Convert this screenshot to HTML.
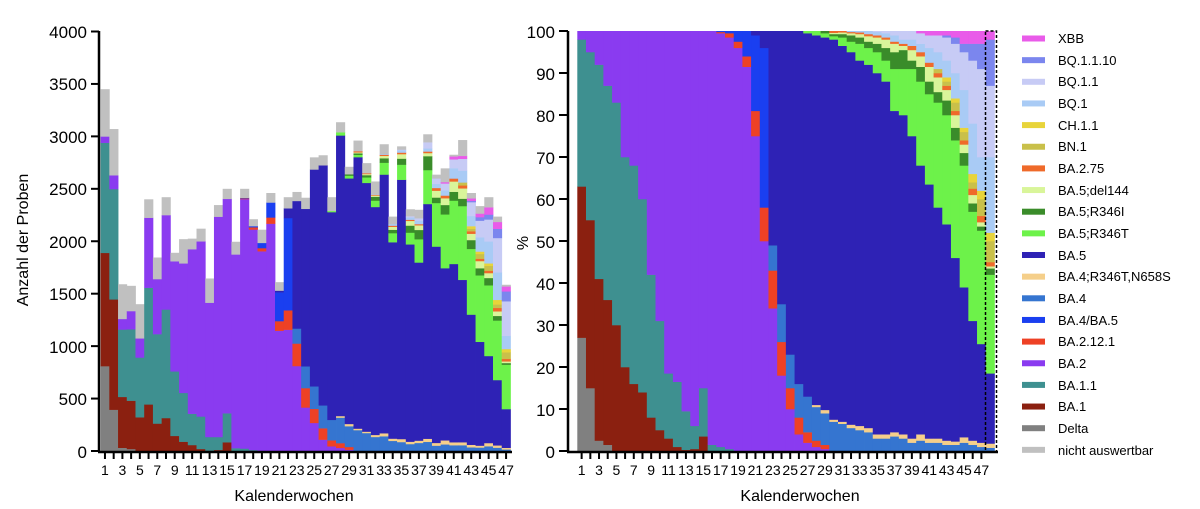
<!DOCTYPE html>
<html><head><meta charset="utf-8"><style>
body{margin:0;background:#fff;width:1200px;height:509px;overflow:hidden}
svg{display:block;font-family:"Liberation Sans",Arial,sans-serif}
</style></head><body>
<svg id="s" width="1200" height="509" xmlns="http://www.w3.org/2000/svg">
<g id="bars"></g>
<g id="axes" stroke="#000" stroke-width="2.5" fill="none">
<line x1="99" y1="31" x2="99" y2="452"/><line x1="98" y1="452" x2="512" y2="452"/>
<line x1="568" y1="31" x2="568" y2="452"/><line x1="567" y1="452" x2="998" y2="452"/>
</g>
<g id="ticks" stroke="#000" stroke-width="2"></g>
<rect x="985.5" y="31" width="11" height="421" fill="none" stroke="#000" stroke-width="1.5" stroke-dasharray="3,2"/>
<g font-size="17" text-anchor="end" fill="#000">
<text x="87" y="38">4000</text><text x="87" y="90">3500</text><text x="87" y="143">3000</text><text x="87" y="195">2500</text><text x="87" y="248">2000</text><text x="87" y="300">1500</text><text x="87" y="353">1000</text><text x="87" y="405">500</text><text x="87" y="458">0</text>
<text x="555" y="38">100</text><text x="555" y="80">90</text><text x="555" y="122">80</text><text x="555" y="164">70</text><text x="555" y="206">60</text><text x="555" y="248">50</text><text x="555" y="290">40</text><text x="555" y="332">30</text><text x="555" y="374">20</text><text x="555" y="416">10</text><text x="555" y="458">0</text>
</g>
<g font-size="14" text-anchor="middle" id="xl"></g>
<text x="294" y="501" font-size="16" text-anchor="middle">Kalenderwochen</text>
<text x="800" y="501" font-size="16" text-anchor="middle">Kalenderwochen</text>
<text transform="translate(28,240) rotate(-90)" font-size="16" text-anchor="middle">Anzahl der Proben</text>
<text transform="translate(528,243) rotate(-90)" font-size="16" text-anchor="middle">%</text>
<g font-size="13" id="leg">
<text x="1058" y="43">XBB</text><text x="1058" y="65">BQ.1.1.10</text><text x="1058" y="86">BQ.1.1</text><text x="1058" y="108">BQ.1</text><text x="1058" y="130">CH.1.1</text><text x="1058" y="151">BN.1</text><text x="1058" y="173">BA.2.75</text><text x="1058" y="195">BA.5;del144</text><text x="1058" y="216">BA.5;R346I</text><text x="1058" y="238">BA.5;R346T</text><text x="1058" y="260">BA.5</text><text x="1058" y="281">BA.4;R346T,N658S</text><text x="1058" y="303">BA.4</text><text x="1058" y="325">BA.4/BA.5</text><text x="1058" y="346">BA.2.12.1</text><text x="1058" y="368">BA.2</text><text x="1058" y="390">BA.1.1</text><text x="1058" y="411">BA.1</text><text x="1058" y="433">Delta</text><text x="1058" y="455">nicht auswertbar</text>
</g>
</svg>
<script>
var C={d:"#808080",b1:"#8b2010",b11:"#3e9090",b2:"#8a3bf0",r:"#ee4125",x:"#1a3ff0",a4:"#3575d0",t:"#f5cf8a",b5:"#2e22b5",g:"#6df24a",dg:"#3a8c2a",dl:"#d9f59a",o:"#ef6a2a",bn:"#c9c04a",ch:"#e8d43a",q1:"#a9cbf5",q11:"#c7cbf5",q10:"#7b86ee",xbb:"#e95be9",na:"#c0c0c0"};
var K=["d","b1","b11","b2","r","x","a4","t","b5","g","dg","dl","o","bn","ch","q1","q11","q10","xbb"];
var W=[
"d:27 b1:63 b11:98 b2:100","d:15 b1:55 b11:95 b2:100","d:2.5 b1:41 b11:92 b2:100","d:1.5 b1:36 b11:87 b2:100",
"b1:30 b11:83 b2:100","b1:20 b11:70 b2:100","b1:16 b11:68 b2:100","b1:14 b11:60 b2:100","b1:8 b11:42 b2:100",
"b1:5 b11:31 b2:100","b1:3 b11:18.5 b2:100","b1:1 b11:16.5 b2:100","b1:.3 b11:9.5 b2:100","b1:.5 b11:6 b2:100",
"b1:3.5 b11:15 b2:100","b11:1.5 b2:100","b11:1 b2:99.5 r:99.8 x:100","b11:.5 b2:98.5 r:99.5 x:100",
"b2:96 r:97.5 x:100","b2:91.5 r:94 x:100","b2:75 r:81 x:99 b5:100","b2:50 r:58 x:96 b5:100",
"b2:34 r:43 a4:49 b5:100","b2:18 r:26 a4:35 b5:100","b2:10 r:15 a4:23 b5:100","b2:4 r:8 a4:16 b5:100",
"b2:2 r:4.5 a4:13 b5:99.5 g:100","b2:1 r:2.5 a4:10.5 t:11 b5:99 g:100","b2:.5 r:1.5 a4:9 t:9.8 b5:98.5 g:99.5 dg:100",
"a4:7 t:7.5 b5:98 g:98.8 dg:99.3 dl:99.6 o:100","a4:6.5 t:7 b5:96.5 g:98.5 dg:99.3 dl:99.7 o:100",
"a4:5.5 t:6.3 b5:95 g:97.5 dg:99 dl:99.5 o:99.8 q1:100","a4:5 t:6 b5:93 g:97 dg:98.5 dl:99.3 o:99.7 q1:100",
"a4:4.5 t:5.5 b5:92 g:96 dg:97.5 dl:98.8 o:99.3 q1:100","a4:3 t:4 b5:90 g:95 dg:97 dl:98.5 o:99 q1:99.8 q11:100",
"a4:3 t:4 b5:88 g:93 dg:96 dl:98 o:98.5 q1:99.5 q11:100","a4:3.5 t:4.5 b5:81 g:91 dg:95 dl:97 o:97.5 q1:99 q11:100",
"a4:3 t:4 b5:80 g:91 dg:95.5 dl:96.5 o:97 q1:98 q11:100","a4:2 t:3 b5:75 g:91 dg:93 dl:95.5 o:96.5 q1:98 q11:100",
"a4:2.5 t:4 b5:68 g:88 dg:91.5 dl:94 o:95 q1:97 q11:99.5 xbb:100","a4:2 t:3 b5:63.5 g:85 dg:88 dl:91.5 o:92.5 q1:96 q11:99 xbb:100",
"a4:2 t:3 b5:58 g:83 dg:85.5 dl:89 o:90 bn:91 q1:95 q11:99 xbb:100",
"a4:1.5 t:2.5 b5:54 g:80 dg:83.5 dl:86 o:87 bn:88 ch:89 q1:93 q11:98.5 q10:99 xbb:100",
"a4:1.5 t:2.3 b5:46 g:74 dg:77 dl:80 o:81 bn:83 ch:84 q1:90 q11:97 q10:98.5 xbb:100",
"a4:2 t:3.3 b5:39 g:68 dg:71 dl:73 o:74 bn:76 ch:77 q1:86 q11:95 q10:97 xbb:100",
"a4:1.5 t:2.5 b5:31 g:57 dg:59 dl:61 o:62.5 bn:64 ch:66 q1:78 q11:93 q10:97 xbb:100",
"a4:1 t:2 b5:25.5 g:52.5 dg:53.5 dl:54.5 o:56 bn:60 ch:62 q1:70 q11:91 q10:97 xbb:100",
"a4:.8 t:1.8 b5:18.5 g:42 dg:43.5 dl:44 o:45 bn:50 ch:52 q1:70 q11:87 q10:98 xbb:100"];
var V=[[3000,3450],[2630,3070],[1260,1590],[1335,1575],[1075,1400],[2225,2400],[1640,1845],[2250,2420],[1810,1890],[1790,2020],[1925,2025],[2000,2120],[1415,1645],[2235,2345],[2405,2500],[1875,1995],[2415,2500],[2145,2210],[1985,2110],[2370,2460],[1530,1610],[2315,2420],[2385,2470],[2310,2415],[2685,2800],[2725,2820],[2290,2420],[3040,3135],[2640,2710],[2860,2960],[2650,2745],[2450,2570],[2835,2925],[2165,2235],[2875,2905],[2240,2305],[2220,2300],[2945,3020],[2600,2635],[2565,2695],[2810,2825],[2815,2965],[2410,2460],[2265,2335],[2325,2420],[2185,2235],[1570,1585]];
var NS="http://www.w3.org/2000/svg",B=document.getElementById("bars"),T=document.getElementById("ticks"),XL=document.getElementById("xl"),L=document.getElementById("leg");
function R(x,y,w,h,f,p){var e=document.createElementNS(NS,"rect");e.setAttribute("x",x);e.setAttribute("y",y);e.setAttribute("width",w);e.setAttribute("height",h);e.setAttribute("fill",f);(p||B).appendChild(e);}
function Ln(x1,y1,x2,y2){var e=document.createElementNS(NS,"line");e.setAttribute("x1",x1);e.setAttribute("y1",y1);e.setAttribute("x2",x2);e.setAttribute("y2",y2);T.appendChild(e);}
function Tx(x,y,s){var e=document.createElementNS(NS,"text");e.setAttribute("x",x);e.setAttribute("y",y);e.textContent=s;XL.appendChild(e);}
function segs(i){var m={};W[i].split(" ").forEach(function(p){var a=p.split(":");m[a[0]]=+a[1];});var prev=0,out=[];K.forEach(function(k){if(m[k]!==undefined){if(m[k]>prev)out.push([k,prev,m[k]]);prev=Math.max(prev,m[k]);}});return out;}
var rw=8.69,rx0=577.3,y0=451,ph=4.2;
for(var i=0;i<48;i++){var x=rx0+i*rw;segs(i).forEach(function(s){R(x,y0-s[2]*ph,rw+0.4,(s[2]-s[1])*ph+0.3,C[s[0]]);});}
var lw=8.72,lx0=100.6,sc=419.5/4000;
for(var i=0;i<47;i++){var x=lx0+i*lw,v=V[i][0],g=V[i][1];segs(i).forEach(function(s){R(x,y0-s[2]/100*v*sc,lw+0.4,(s[2]-s[1])/100*v*sc+0.3,C[s[0]]);});R(x,y0-g*sc,lw+0.4,(g-v)*sc+0.3,C.na);}
[0,500,1000,1500,2000,2500,3000,3500,4000].forEach(function(v){var y=451-v*sc;Ln(91,y,99,y);});
for(var p=0;p<=100;p+=10){var y=451-p*ph;Ln(559,y,568,y);}
for(var i=0;i<47;i++){var x=lx0+i*lw+lw/2;Ln(x,452,x,459);if(i%2==0)Tx(x,475,""+(i+1));var x2=rx0+i*rw+rw/2;Ln(x2,452,x2,459);if(i%2==0)Tx(x2,475,""+(i+1));}
var lk=["xbb","q10","q11","q1","ch","bn","o","dl","dg","g","b5","t","a4","x","r","b2","b11","b1","d","na"];
lk.forEach(function(k,j){R(1022,35.5+j*21.65,23,6,C[k],L);});
</script>
</body></html>
